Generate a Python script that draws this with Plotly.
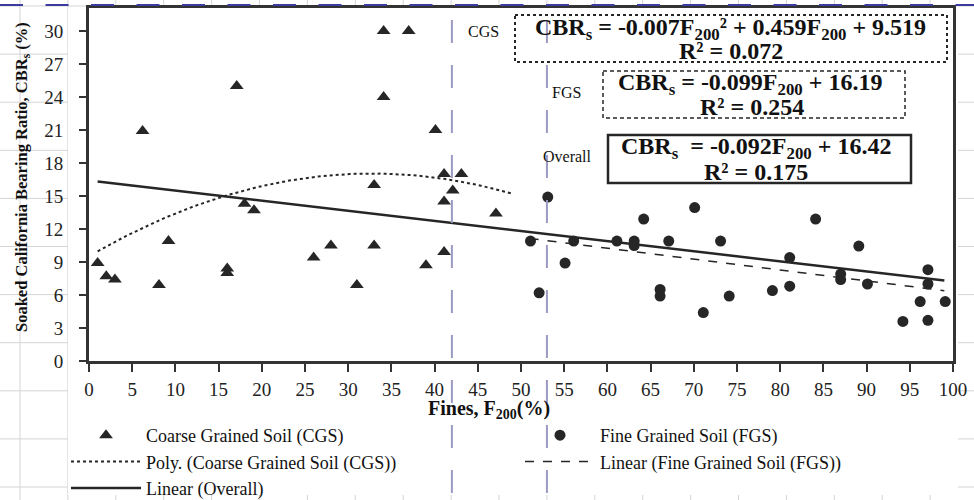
import numpy as np
import plotly.graph_objects as go

# Coarse grained soil (triangles)
CGS_F200 = [1, 2, 3, 6.2, 8.1, 9.2, 16, 16, 17.1, 18, 19.1, 26, 28, 31, 33, 33,
            34.1, 34.1, 37, 39, 40.1, 41.1, 41.1, 41.1, 42.1, 43.1, 47.1]
CGS_CBR = [8.9, 7.7, 7.4, 20.9, 6.9, 10.9, 8.4, 8.0, 25.0, 14.3, 13.7, 9.4, 10.5, 6.9, 16.0, 10.5,
           30.0, 24.0, 30.0, 8.7, 21.0, 17.0, 14.5, 9.9, 15.5, 17.0, 13.4]

# Fine grained soil (circles)
FGS_F200 = [51.1, 52.1, 53.1, 55.1, 56.1, 61.1, 63.1, 63.1, 64.2, 66.1, 66.1, 67.1, 70.1, 71.1, 73.1,
            74.1, 79.1, 81.1, 81.1, 84.1, 87, 87, 89.1, 90.1, 94.2, 96.2, 97.1, 97.1, 97.1, 99.1]
FGS_CBR = [10.9, 6.2, 14.9, 8.9, 10.9, 10.9, 10.9, 10.5, 12.9, 6.5, 5.9, 10.9, 13.95, 4.4, 10.9,
           5.9, 6.4, 9.4, 6.8, 12.9, 7.9, 7.4, 10.45, 7.0, 3.6, 5.4, 8.3, 7.0, 3.7, 5.4]

# trendline coefficients as printed on the chart, and the x extent each line covers
POLY_CGS = [-0.007, 0.459, 9.519]
LIN_FGS = [-0.099, 16.19]
LIN_ALL = [-0.092, 16.42]
POLY_CGS_X = [1, 49]
LIN_FGS_X = [51, 99]
LIN_ALL_X = [1, 99]

SERIF = "Liberation Serif, Times New Roman, serif"
INK = "#262626"

# figure / plot area in pixels
W, H = 974, 500
L, R, T, B = 89, 21, 8, 139


def px(x):
    return (x - L) / (W - L - R)


def py(y):
    return (H - B - y) / (H - T - B)


fig = go.Figure()

fig.add_trace(go.Scatter(x=CGS_F200, y=CGS_CBR, mode="markers", name="Coarse Grained Soil (CGS)",
                         marker=dict(symbol="triangle-up", size=12, color=INK)))
fig.add_trace(go.Scatter(x=FGS_F200, y=FGS_CBR, mode="markers", name="Fine Grained Soil (FGS)",
                         marker=dict(symbol="circle", size=11, color=INK)))

xp = np.linspace(POLY_CGS_X[0], POLY_CGS_X[1], 80)
fig.add_trace(go.Scatter(x=xp, y=np.polyval(POLY_CGS, xp), mode="lines",
                         name="Poly. (Coarse Grained Soil (CGS))",
                         line=dict(color=INK, width=2, dash="dot")))
xf = np.array(LIN_FGS_X, dtype=float)
fig.add_trace(go.Scatter(x=xf, y=np.polyval(LIN_FGS, xf), mode="lines",
                         name="Linear (Fine Grained Soil (FGS))",
                         line=dict(color=INK, width=1.5, dash="dash")))
xa = np.array(LIN_ALL_X, dtype=float)
fig.add_trace(go.Scatter(x=xa, y=np.polyval(LIN_ALL, xa), mode="lines",
                         name="Linear (Overall)",
                         line=dict(color=INK, width=2.5)))

shapes = []
# spreadsheet cell grid showing around the chart
for gx in np.arange(20, W, 47.9):
    shapes.append(dict(type="line", xref="paper", yref="paper", x0=px(gx), x1=px(gx),
                       y0=py(0), y1=py(H), line=dict(color="#d4d4d4", width=1), layer="below"))
for gy in np.arange(6, H, 48.1):
    shapes.append(dict(type="line", xref="paper", yref="paper", x0=px(0), x1=px(W),
                       y0=py(gy), y1=py(gy), line=dict(color="#d4d4d4", width=1), layer="below"))
shapes.append(dict(type="rect", xref="paper", yref="paper", x0=px(68), x1=px(958),
                   y0=py(8), y1=py(495), fillcolor="white", line=dict(width=0), layer="below"))
# page break
shapes.append(dict(type="line", xref="paper", yref="paper", x0=px(0), x1=px(W),
                   y0=py(5), y1=py(5), line=dict(color="#3c3ca0", width=2, dash="23px,22.5px")))
# CGS / FGS boundaries
for bx in [42, 53]:
    shapes.append(dict(type="line", xref="paper", yref="paper", x0=bx / 100, x1=bx / 100,
                       y0=py(20), y1=py(H), line=dict(color="#9a9ac2", width=2, dash="23px,22px")))
# equation boxes
shapes.append(dict(type="rect", xref="paper", yref="paper", x0=px(515), x1=px(947), y0=py(15), y1=py(62),
                   line=dict(color=INK, width=2, dash="dot")))
shapes.append(dict(type="rect", xref="paper", yref="paper", x0=px(603), x1=px(905), y0=py(71), y1=py(118),
                   line=dict(color=INK, width=1.5, dash="4px,3px")))
shapes.append(dict(type="rect", xref="paper", yref="paper", x0=px(608), x1=px(911), y0=py(135), y1=py(183),
                   line=dict(color=INK, width=2.5)))


def label(text, x, y, size, **kw):
    return dict(text=text, xref="paper", yref="paper", x=px(x), y=py(y), showarrow=False,
                xanchor="center", yanchor="middle", font=dict(family=SERIF, size=size, color="#111"), **kw)


annotations = [
    label("<b>CBR<sub>s</sub> = -0.007F<sub>200</sub>² + 0.459F<sub>200</sub> + 9.519</b>", 730, 29, 24),
    label("<b>R² = 0.072</b>", 731, 51, 24),
    label("<b>CBR<sub>s</sub> = -0.099F<sub>200</sub> + 16.19</b>", 750, 84, 24),
    label("<b>R² = 0.254</b>", 752, 107, 24),
    label("<b>CBR<sub>s</sub>  = -0.092F<sub>200</sub> + 16.42</b>", 756, 148, 24),
    label("<b>R² = 0.175</b>", 756, 172, 24),
    label("CGS", 483, 31, 16),
    label("FGS", 566, 92, 16),
    label("Overall", 567, 156, 16),
    label("<b>Fines, F<sub>200</sub>(%)</b>", 489, 410, 20),
    label("<b>Soaked California Bearing Ratio, CBR<sub>s</sub> (%)</b>", 22, 177, 16.5, textangle=-90),
]

axis_common = dict(showline=True, linewidth=3, linecolor="#333", mirror=True, showgrid=False,
                   zeroline=False, ticks="outside", tickwidth=2, tickcolor="#333",
                   tickfont=dict(family=SERIF, size=19, color="#222"))

fig.update_layout(
    width=W, height=H, margin=dict(l=L, r=R, t=T, b=B, autoexpand=False),
    paper_bgcolor="white", plot_bgcolor="white",
    xaxis=dict(range=[0, 100], dtick=5, tick0=0, ticklen=8, ticklabelstandoff=1, **axis_common),
    yaxis=dict(range=[0, 32.09], dtick=3, tick0=0, ticklen=7, ticklabelstandoff=12, **axis_common),
    shapes=shapes, annotations=annotations,
    legend=dict(orientation="h", x=px(66), y=py(417), xanchor="left", yanchor="top",
                entrywidth=369, entrywidthmode="pixels", itemwidth=70,
                bgcolor="rgba(0,0,0,0)", font=dict(family=SERIF, size=18, color="#111")),
)

# page body margin would shift the chart by 8px
fig.write_html("out.html", config={"displayModeBar": False},
               post_script="document.body.style.margin='0';")
